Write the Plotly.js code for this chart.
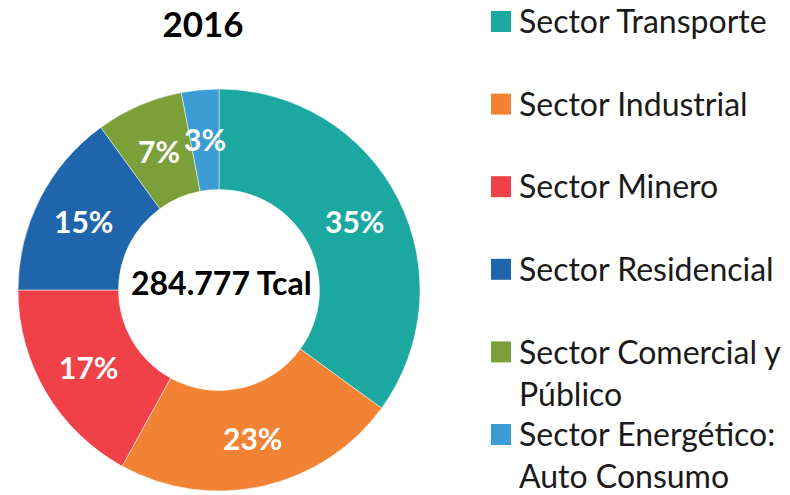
<!DOCTYPE html>
<html>
<head>
<meta charset="utf-8">
<script src="https://cdn.plot.ly/plotly-3.0.1.min.js"></script>
<style>html,body{margin:0;padding:0;background:#fff;}#chart{width:790px;height:495px;}</style>
</head>
<body>
<div id="chart"></div>
<script>
// Data
const year = '2016';
const totalLabel = '284.777 Tcal';
const sectors = ['Sector Transporte', 'Sector Industrial', 'Sector Minero', 'Sector Residencial', 'Sector Comercial y Público', 'Sector Energético: Auto Consumo'];
const legendText = ['Sector Transporte', 'Sector Industrial', 'Sector Minero', 'Sector Residencial', 'Sector Comercial y<br>Público', 'Sector Energético:<br>Auto Consumo'];
const shares = [35, 23, 17, 15, 7, 3];
const colors = ['#1AA8A0', '#F28234', '#F04048', '#1F65AB', '#7BA03A', '#3B9DD3'];

const W = 790, H = 495;
const FONT = 'Lato, "Open Sans", sans-serif';
// pie geometry (pixels)
const CX = 219, CY = 290, R = 201, HOLE = 0.5, LABEL_R = 152;

const trace = {
  type: 'pie',
  labels: sectors,
  values: shares,
  marker: {colors: colors, line: {color: '#ffffff', width: 0.5}},
  hole: HOLE,
  sort: false,
  direction: 'clockwise',
  rotation: 0,
  textinfo: 'none',
  hoverinfo: 'none',
  domain: {x: [(CX - R) / W, (CX + R) / W], y: [1 - (CY + R) / H, 1 - (CY - R) / H]}
};

const shapes = [];
const annotations = [];
const legendFont = 32;
for (let i = 0; i < sectors.length; i++) {
  const c = 21 + 82.6 * i;
  shapes.push({
    type: 'rect', xref: 'paper', yref: 'paper',
    x0: 491 / W, x1: 511 / W, y0: 1 - (c + 11) / H, y1: 1 - (c - 10) / H,
    fillcolor: colors[i], line: {width: 0}
  });
  annotations.push({
    xref: 'paper', yref: 'paper', x: 517 / W, y: 1 - (c - legendFont * 0.65 - 1) / H,
    xanchor: 'left', yanchor: 'top', align: 'left', showarrow: false,
    text: legendText[i], font: {family: FONT, size: legendFont, color: '#1a1a1a'}
  });
}

// percentage labels placed at the middle of each slice, derived from the shares
const total = shares.reduce((a, b) => a + b, 0);
let cum = 0;
for (let i = 0; i < shares.length; i++) {
  const mid = (cum + shares[i] / 2) / total;
  cum += shares[i];
  const th = 2 * Math.PI * mid;
  const px = CX + LABEL_R * Math.sin(th);
  const py = CY - LABEL_R * Math.cos(th);
  annotations.push({
    xref: 'paper', yref: 'paper', x: px / W, y: 1 - py / H,
    xanchor: 'center', yanchor: 'middle', showarrow: false,
    text: '<b>' + Math.round(100 * shares[i] / total) + '%</b>',
    font: {family: FONT, size: 30, color: '#ffffff'}
  });
}

annotations.push({
  xref: 'paper', yref: 'paper', x: 221 / W, y: 1 - 282 / H,
  xanchor: 'center', yanchor: 'middle', showarrow: false,
  text: '<b>' + totalLabel + '</b>', font: {family: FONT, size: 32, color: '#000000'}
});

const layout = {
  width: W, height: H,
  margin: {l: 0, r: 0, t: 0, b: 0},
  paper_bgcolor: '#ffffff',
  showlegend: false,
  title: {text: '<b>' + year + '</b>', x: 203 / W, xanchor: 'center', y: 1 - 25 / H, yanchor: 'middle',
          font: {family: FONT, size: 35, color: '#000000'}},
  shapes: shapes,
  annotations: annotations
};

Plotly.newPlot('chart', [trace], layout, {displayModeBar: false, staticPlot: true});
</script>
</body>
</html>
